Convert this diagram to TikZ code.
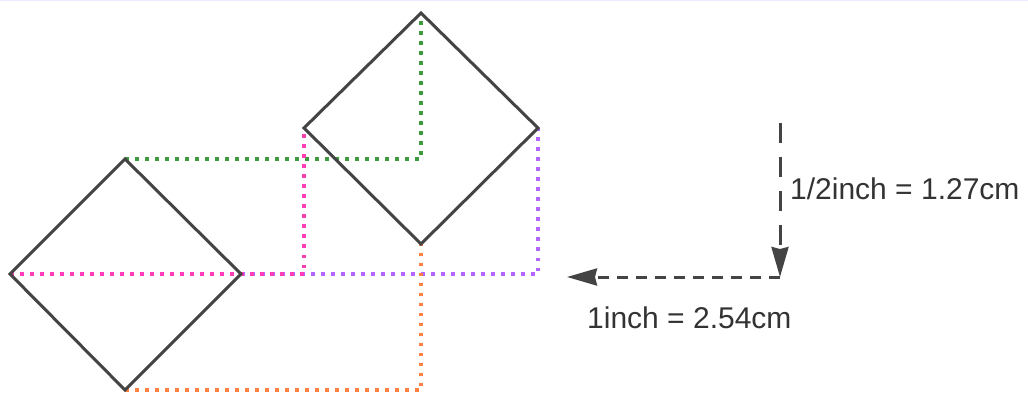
\documentclass[tikz,border=0pt]{standalone}
\usepackage{fontspec}
\setmainfont{Liberation Sans}
\usetikzlibrary{calc, arrows.meta, positioning}
\definecolor{edgegray}{HTML}{444444}
\definecolor{textgray}{HTML}{333333}
\definecolor{guidegreen}{HTML}{3E9A3E}
\definecolor{guidepink}{HTML}{FF3DB8}
\definecolor{guidepurple}{HTML}{B266FF}
\definecolor{guideorange}{HTML}{FF8040}
\tikzset{
  guide/.style={line width=3.5pt, dash pattern=on 3.5pt off 6.5pt},
  side/.style={line width=3pt, color=edgegray, line join=miter},
  measure/.style={line width=3pt, color=edgegray, -{Stealth[length=30pt,width=17pt,inset=2pt]}},
  lbl/.style={inner sep=0pt, anchor=base west, text=textgray, font=\fontsize{30}{36}\selectfont}
}
\begin{document}
\begin{tikzpicture}[x=1pt,y=-1pt]
        \useasboundingbox (0,0) rectangle (1028,406);
        \draw[color=blue!8, line width=1.5pt] (0,0.75) -- (1028,0.75);

        % left square
        \coordinate (Ltop) at (125,159);
        \coordinate (Lleft) at (10,274);
        \coordinate (Lright) at (241,274);
        \coordinate (Lbot) at (125,390);
        % right square
        \coordinate (Rtop) at (421,13);
        \coordinate (Rleft) at (304,128);
        \coordinate (Rright) at (538,128);
        \coordinate (Rbot) at (421,244);

        %點線
        \draw[guide, guidegreen] (Ltop) -| (Rtop);
        \draw[guide, guidepurple] (Lright) -| (Rright);
        \draw[guide, guidepink] (Lleft) -| (Rleft);
        \draw[guide, guideorange] (Lbot) -| (Rbot);

        \draw[side] (Ltop) -- (Lright) -- (Lbot) -- (Lleft) -- cycle;
        \draw[side] (Rtop) -- (Rright) -- (Rbot) -- (Rleft) -- cycle;

        % scale arrows
        \coordinate (vtop) at (780,123);
        \coordinate (corner) at (780,277);
        \coordinate (hend) at (567,277);
        \draw[measure, dash pattern=on 20pt off 14pt] (vtop) -- (corner);
        \draw[measure, dash pattern=on 11pt off 8pt] (corner) -- (hend);

        \node[lbl] (half) at (790,200) {1/2inch = 1.27cm};
        \node[lbl] (full) at (587,328) {1inch = 2.54cm};
\end{tikzpicture}
\end{document}
